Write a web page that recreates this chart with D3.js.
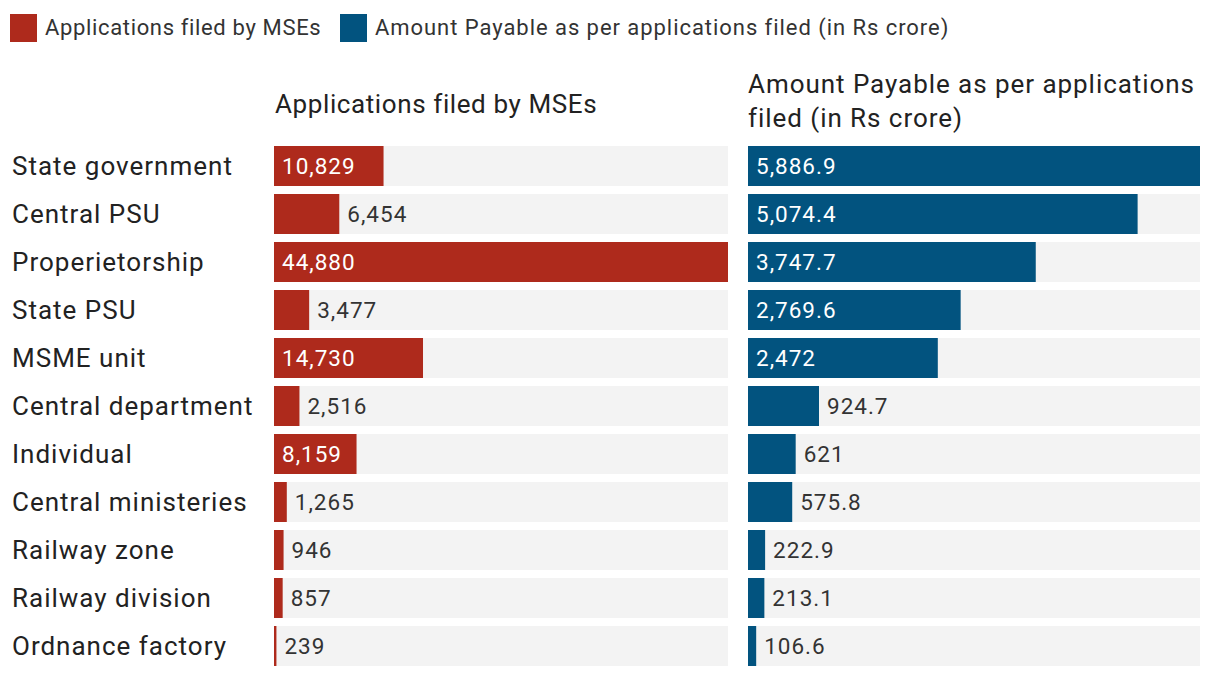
<!DOCTYPE html>
<html><head><meta charset="utf-8">
<script src="https://cdn.jsdelivr.net/npm/d3@7"></script>
<style>
body{margin:0;background:#fff;}
svg text{font-family:Roboto, "Noto Sans", sans-serif;}
</style></head>
<body><svg id="c" width="1220" height="678"></svg>
<script>
const categories = ["State government","Central PSU","Properietorship","State PSU","MSME unit","Central department","Individual","Central ministeries","Railway zone","Railway division","Ordnance factory"];
const applications = [10829,6454,44880,3477,14730,2516,8159,1265,946,857,239];
const amounts = [5886.9,5074.4,3747.7,2769.6,2472,924.7,621,575.8,222.9,213.1,106.6];
const amountLabels = ["5,886.9","5,074.4","3,747.7","2,769.6","2,472","924.7","621","575.8","222.9","213.1","106.6"];
const seriesNames = ["Applications filed by MSEs","Amount Payable as per applications filed (in Rs crore)"];
const colors = ["#ae2a1c","#02537f"];

const svg = d3.select("#c");
const y2 = d3.scaleBand().domain(categories).range([146, 146+48*11-8]).paddingInner(0.1667).paddingOuter(0);

const xL = d3.scaleLinear().domain([0, d3.max(applications)]).range([274, 728]);
const xR = d3.scaleLinear().domain([0, d3.max(amounts)]).range([748, 1200]);

// legend
const leg = svg.append("g");
[[10,45,0.65],[340,375,0.95]].forEach((p,i)=>{
  leg.append("rect").attr("x",p[0]).attr("y",14).attr("width",27).attr("height",28).attr("fill",colors[i]);
  leg.append("text").attr("x",p[1]).attr("y",35).attr("font-size",22).attr("letter-spacing",p[2]).attr("fill","#333").text(seriesNames[i]);
});

// headers
function H(x,yy,t,ls){svg.append("text").attr("x",x).attr("y",yy).attr("font-size",26).attr("letter-spacing",ls).attr("fill","#222").text(t);}
H(275,113,"Applications filed by MSEs",0.6);
H(748,93,"Amount Payable as per applications",0.95);
H(748,127,"filed (in Rs crore)",0.95);

const band = y2.bandwidth();
// category labels
svg.selectAll(".cat").data(categories).join("text")
  .attr("x",12).attr("y",d=>y2(d)+band/2+9).attr("font-size",26).attr("letter-spacing",1).attr("fill","#222").text(d=>d);

function panel(vals, labels, x, color){
  const g = svg.append("g");
  g.selectAll(".bg").data(categories).join("rect")
    .attr("x",x.range()[0]).attr("y",d=>y2(d)).attr("width",x.range()[1]-x.range()[0]).attr("height",band).attr("fill","#f3f3f3");
  g.selectAll(".bar").data(vals).join("rect")
    .attr("x",x(0)).attr("y",(d,i)=>y2(categories[i])).attr("width",d=>x(d)-x(0)).attr("height",band).attr("fill",color);
  g.selectAll(".lab").data(vals).join("text")
    .attr("font-size",22.5).attr("letter-spacing",1).attr("y",(d,i)=>y2(categories[i])+band/2+8)
    .text((d,i)=>labels[i])
    .each(function(d){
      const w = this.getComputedTextLength();
      const bw = x(d)-x(0);
      const t = d3.select(this);
      if (bw >= w + 16) t.attr("x",x(0)+8).attr("fill","#fff");
      else t.attr("x",x(d)+8).attr("fill","#333");
    });
}
panel(applications, applications.map(d3.format(",")), xL, colors[0]);
panel(amounts, amountLabels, xR, colors[1]);
</script></body></html>
